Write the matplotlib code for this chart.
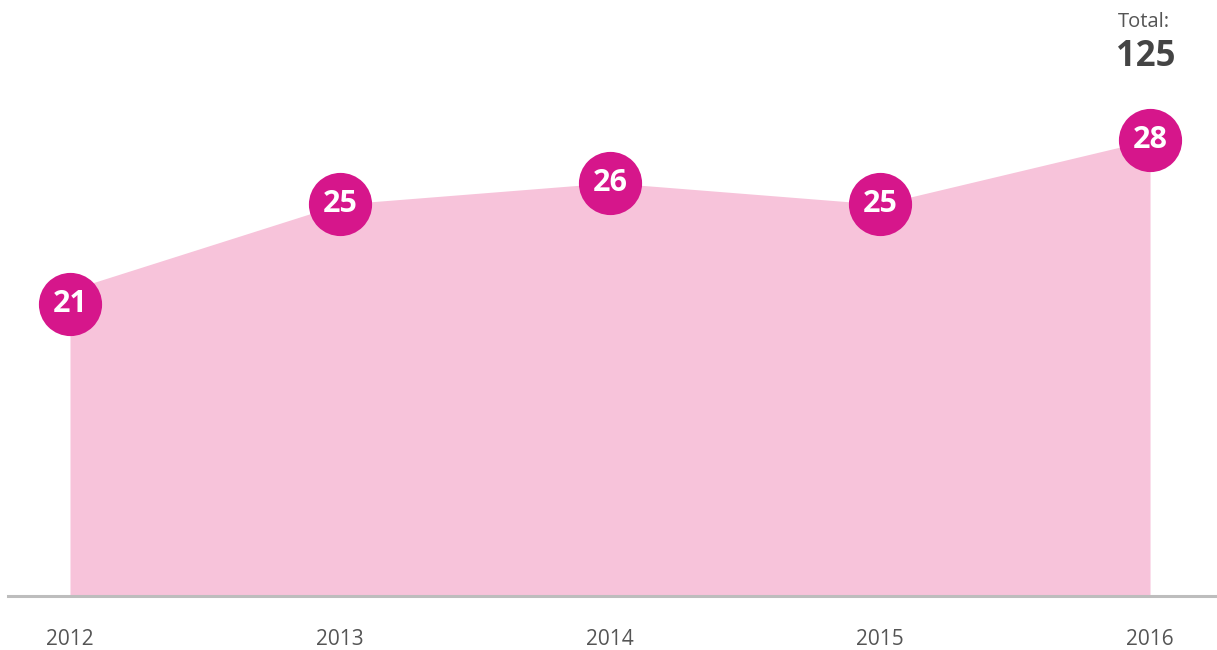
import matplotlib
matplotlib.use("Agg")
import matplotlib.pyplot as plt
from matplotlib import transforms

years = ["2012", "2013", "2014", "2015", "2016"]
values = [21, 25, 26, 25, 28]
total_label = "Total:"
total_value = "125"

pink_fill = "#F7C3DA"
magenta = "#D6168B"
grey_text = "#555555"

plt.rcParams['font.family'] = ['Open Sans', 'DejaVu Sans']

W, H = 1217, 650
fig = plt.figure(figsize=(W / 100, H / 100), dpi=100)
ax = fig.add_axes([8 / W, 1 - 596 / H, 1209 / W, 596 / H])

x = list(range(len(years)))
ymin = 6.72
ax.fill_between(x, values, ymin, color=pink_fill, linewidth=0, zorder=1)
ax.set_xlim(-0.2296, 4.248)
ax.set_ylim(ymin, 34.53)

# circles with value labels; first one nudged down a bit like the original
nudge = [-10, 0, 0, 0, 0]
for xi, v, dy in zip(x, values, nudge):
    tr = transforms.offset_copy(ax.transData, fig=fig, x=0, y=dy, units='points')
    ax.plot([xi], [v], 'o', ms=45.5, color=magenta, mew=0,
            transform=tr, clip_on=False, zorder=3)
    ax.text(xi, v, str(v), transform=tr, ha='center', va='center',
            color='white', fontsize=22, fontweight='bold', zorder=4)

for s in ['top', 'right', 'left']:
    ax.spines[s].set_visible(False)
ax.spines['bottom'].set_color('#BDBDBD')
ax.spines['bottom'].set_linewidth(2.2)
ax.set_yticks([])
ax.set_xticks(x)
ax.set_xticklabels(years, fontsize=15, color=grey_text)
ax.tick_params(axis='x', length=0, pad=24)

fig.text(1144 / W, 1 - 22 / H, total_label, ha='center', va='center',
         fontsize=14.5, color=grey_text)
fig.text(1146 / W, 1 - 57 / H, total_value, ha='center', va='center',
         fontsize=25, fontweight='bold', color='#444444')

fig.savefig("out.png", dpi=100)
